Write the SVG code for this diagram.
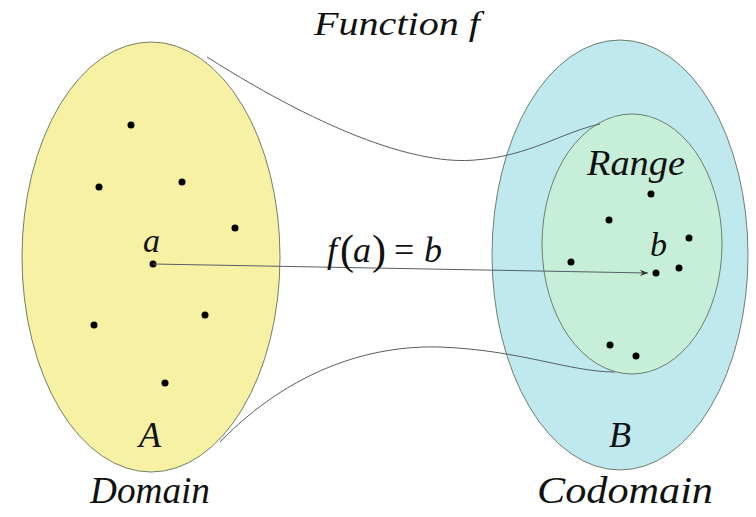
<svg xmlns="http://www.w3.org/2000/svg" width="756" height="517" viewBox="0 0 756 517">
<defs>
<style>
.t{font-family:"Liberation Serif","Times New Roman",serif;font-style:italic;fill:#111}
.up{font-style:normal}
.dot{fill:#000}
.set{stroke:#6f7f6a;stroke-width:1}
.con{fill:none;stroke:#555f66;stroke-width:1}
</style>
<marker id="ah" viewBox="0 0 10 10" refX="10" refY="5" markerWidth="8" markerHeight="8" orient="auto" markerUnits="userSpaceOnUse"><path d="M0,1 L10,5 L0,9 L3,5 Z" fill="#333"/></marker>
</defs>
<rect width="756" height="517" fill="#fff"/>
<text class="t" x="314" y="35" font-size="34" textLength="166" lengthAdjust="spacingAndGlyphs">Function f</text>
<g id="domain">
<ellipse class="set" cx="151" cy="257" rx="129" ry="215" fill="#f7f1a3"/>
<g class="dot"><circle cx="131" cy="125" r="3.5"/><circle cx="99" cy="187" r="3.5"/><circle cx="182" cy="182" r="3.5"/><circle cx="235" cy="228" r="3.5"/><circle cx="153" cy="264" r="3.5"/><circle cx="94" cy="325" r="3.5"/><circle cx="205" cy="315" r="3.5"/><circle cx="165" cy="383" r="3.5"/></g>
<text class="t" x="143" y="252" font-size="34">a</text>
<text class="t" x="139" y="447" font-size="36">A</text>
<text class="t" x="90" y="503" font-size="37" textLength="120" lengthAdjust="spacingAndGlyphs">Domain</text>
</g>
<g id="codomain">
<ellipse class="set" cx="620" cy="255" rx="128" ry="215" fill="#bfe8ef"/>
<text class="t" x="609" y="447" font-size="36">B</text>
<text class="t" x="537" y="503" font-size="37" textLength="176" lengthAdjust="spacingAndGlyphs">Codomain</text>
</g>
<g id="range">
<ellipse class="set" cx="632" cy="244" rx="90" ry="130" fill="#c6eed9"/>
<g class="dot"><circle cx="651" cy="194" r="3.5"/><circle cx="609" cy="220" r="3.5"/><circle cx="689" cy="238" r="3.5"/><circle cx="571" cy="262" r="3.5"/><circle cx="656" cy="273" r="3.5"/><circle cx="679" cy="268" r="3.5"/><circle cx="610" cy="345" r="3.5"/><circle cx="636" cy="356" r="3.5"/></g>
<text class="t" x="587" y="175" font-size="36" textLength="98" lengthAdjust="spacingAndGlyphs">Range</text>
<text class="t" x="650" y="256" font-size="34">b</text>
</g>
<g id="connectors">
<path class="con" d="M207,57 C330,135 420,165 475,160 C530,156 560,133 600,124"/>
<path class="con" d="M220,442 C290,370 370,345 440,347 C520,350 570,372 615,372"/>
<line class="con" x1="153" y1="264" x2="648" y2="273" marker-end="url(#ah)"/>
<text class="t" y="262" font-size="36"><tspan x="327">f</tspan><tspan class="up" x="340" y="264" font-size="42">(</tspan><tspan x="353" y="262">a</tspan><tspan class="up" x="372" y="264" font-size="42">)</tspan><tspan class="up" x="394" y="262">=</tspan><tspan x="424" y="262">b</tspan></text>
</g>
</svg>
